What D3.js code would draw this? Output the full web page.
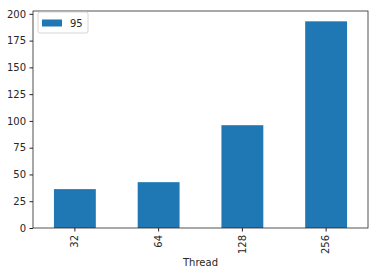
<!DOCTYPE html>
<html>
<head>
<meta charset="utf-8">
<script src="https://cdn.jsdelivr.net/npm/d3@7"></script>
<style>
body { margin: 0; background: #fff; }
text { font-family: "DejaVu Sans", sans-serif; fill: #262626; }
</style>
</head>
<body>
<script>
var threads = ["32", "64", "128", "256"];
var values95 = [36.3, 42.8, 96, 193];
var yTicks = [0, 25, 50, 75, 100, 125, 150, 175, 200];
var seriesName = "95";

var width = 378, height = 275;
var margin = {left: 33, top: 11, right: 10, bottom: 47};

var svg = d3.select("body").append("svg")
    .attr("width", width)
    .attr("height", height);

var x = d3.scaleBand()
    .domain(threads)
    .range([margin.left, width - margin.right])
    .paddingInner(0.5)
    .paddingOuter(0.25);

var y = d3.scaleLinear()
    .domain([0, d3.max(values95) * 1.05])
    .range([height - margin.bottom, margin.top]);

svg.append("g")
    .selectAll("rect")
    .data(values95)
    .enter()
    .append("rect")
    .attr("x", (d, i) => x(threads[i]))
    .attr("y", d => y(d))
    .attr("width", x.bandwidth())
    .attr("height", d => y(0) - y(d))
    .style("fill", "#1f77b4");

// y axis
var yAxis = svg.append("g")
    .attr("transform", "translate(" + margin.left + ",0)")
    .call(d3.axisLeft(y).tickValues(yTicks).tickSize(3.5).tickPadding(3.5));
yAxis.select(".domain").remove();
yAxis.selectAll("text").style("font-size", "10px").attr("fill", "#262626");
yAxis.selectAll("line").attr("stroke", "#262626");

// x axis
var xAxis = svg.append("g")
    .attr("transform", "translate(0," + (height - margin.bottom) + ")")
    .call(d3.axisBottom(x).tickSize(3.5).tickPadding(3.5));
xAxis.select(".domain").remove();
xAxis.selectAll("line").attr("stroke", "#262626");
xAxis.selectAll("text")
    .style("font-size", "10px")
    .attr("fill", "#262626")
    .attr("transform", "rotate(-90)")
    .attr("x", -7)
    .attr("y", 0)
    .attr("dy", "0.32em")
    .style("text-anchor", "end");

// frame
svg.append("rect")
    .attr("x", margin.left)
    .attr("y", margin.top)
    .attr("width", width - margin.left - margin.right)
    .attr("height", height - margin.top - margin.bottom)
    .style("fill", "none")
    .style("stroke", "#262626")
    .style("stroke-width", 0.8);

svg.append("text")
    .attr("x", margin.left + (width - margin.left - margin.right) / 2)
    .attr("y", 266)
    .attr("text-anchor", "middle")
    .style("font-size", "10px")
    .text("Thread");

// legend
var legend = svg.append("g")
    .attr("transform", "translate(" + (margin.left + 5) + "," + (margin.top + 1) + ")");
legend.append("rect")
    .attr("width", 50)
    .attr("height", 21)
    .attr("rx", 2)
    .style("fill", "#fff")
    .style("stroke", "#ccc")
    .style("stroke-width", 0.8);
legend.append("rect")
    .attr("x", 4)
    .attr("y", 7.5)
    .attr("width", 20)
    .attr("height", 7)
    .style("fill", "#1f77b4");
legend.append("text")
    .attr("x", 32)
    .attr("y", 14.5)
    .style("font-size", "10px")
    .text(seriesName);
</script>
</body>
</html>
